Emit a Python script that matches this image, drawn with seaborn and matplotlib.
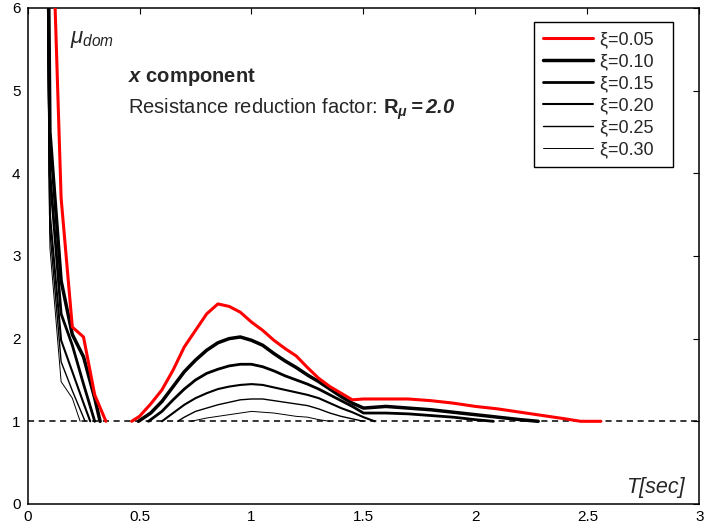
import numpy as np
import pandas as pd
import matplotlib
matplotlib.use("Agg")
import matplotlib.pyplot as plt
import seaborn as sns
from matplotlib.lines import Line2D

# ---------------- data (NaN separates the two branches of a curve) ----------------
xi_labels = ["ξ=0.05", "ξ=0.10", "ξ=0.15", "ξ=0.20", "ξ=0.25", "ξ=0.30"]

T_005 = [0.05, 0.10, 0.15, 0.20, 0.25, 0.30, 0.35, np.nan,
         0.465, 0.50, 0.55, 0.60, 0.65, 0.70, 0.75, 0.80, 0.85, 0.90, 0.95, 1.00,
         1.05, 1.10, 1.15, 1.20, 1.25, 1.30, 1.35, 1.40, 1.45, 1.50, 1.60, 1.70,
         1.80, 1.90, 2.00, 2.10, 2.20, 2.30, 2.40, 2.47, 2.56]
M_005 = [30.0, 8.0, 3.7, 2.14, 2.02, 1.32, 1.0, np.nan,
         1.0, 1.06, 1.21, 1.38, 1.62, 1.90, 2.10, 2.30, 2.42, 2.39, 2.32, 2.20,
         2.10, 1.98, 1.88, 1.79, 1.65, 1.52, 1.42, 1.34, 1.26, 1.27, 1.27, 1.27,
         1.25, 1.22, 1.18, 1.15, 1.11, 1.07, 1.03, 1.0, 1.0]

T_010 = [0.05, 0.10, 0.15, 0.20, 0.25, 0.30, 0.324, np.nan,
         0.495, 0.55, 0.60, 0.65, 0.70, 0.75, 0.80, 0.85, 0.90, 0.95, 1.00, 1.05,
         1.10, 1.15, 1.20, 1.25, 1.30, 1.35, 1.40, 1.45, 1.50, 1.60, 1.70, 1.80,
         1.90, 2.00, 2.10, 2.20, 2.28]
M_010 = [20.0, 4.5, 2.7, 2.05, 1.78, 1.28, 1.0, np.nan,
         1.0, 1.10, 1.24, 1.42, 1.60, 1.74, 1.86, 1.95, 2.00, 2.02, 1.98, 1.92,
         1.82, 1.73, 1.65, 1.56, 1.48, 1.39, 1.30, 1.22, 1.16, 1.18, 1.16, 1.14,
         1.11, 1.08, 1.05, 1.02, 1.0]

T_015 = [0.05, 0.10, 0.15, 0.20, 0.25, 0.30, np.nan,
         0.54, 0.60, 0.65, 0.70, 0.75, 0.80, 0.85, 0.90, 0.95, 1.00, 1.05, 1.10,
         1.15, 1.20, 1.25, 1.30, 1.35, 1.40, 1.45, 1.50, 1.60, 1.70, 1.80, 1.90,
         2.00, 2.08]
M_015 = [19.0, 4.0, 2.3, 1.92, 1.45, 1.0, np.nan,
         1.0, 1.12, 1.26, 1.39, 1.50, 1.58, 1.63, 1.67, 1.69, 1.69, 1.66, 1.61,
         1.55, 1.50, 1.45, 1.39, 1.32, 1.25, 1.18, 1.10, 1.10, 1.09, 1.07, 1.05,
         1.02, 1.0]

T_020 = [0.05, 0.10, 0.15, 0.20, 0.25, 0.28, np.nan,
         0.60, 0.65, 0.70, 0.75, 0.80, 0.85, 0.90, 0.95, 1.00, 1.05, 1.10, 1.15,
         1.20, 1.25, 1.30, 1.35, 1.40, 1.45, 1.50, 1.55]
M_020 = [18.0, 3.5, 1.98, 1.60, 1.22, 1.0, np.nan,
         1.0, 1.10, 1.20, 1.28, 1.34, 1.39, 1.42, 1.44, 1.45, 1.44, 1.41, 1.38,
         1.35, 1.32, 1.28, 1.22, 1.16, 1.11, 1.05, 1.0]

T_025 = [0.05, 0.10, 0.15, 0.20, 0.257, np.nan,
         0.67, 0.70, 0.75, 0.80, 0.85, 0.90, 0.95, 1.00, 1.05, 1.10, 1.15, 1.20,
         1.25, 1.30, 1.35, 1.40, 1.45, 1.50]
M_025 = [17.0, 3.3, 1.72, 1.37, 1.0, np.nan,
         1.0, 1.05, 1.12, 1.16, 1.20, 1.23, 1.26, 1.27, 1.27, 1.25, 1.23, 1.21,
         1.19, 1.15, 1.10, 1.06, 1.03, 1.0]

T_030 = [0.05, 0.10, 0.15, 0.20, 0.235, np.nan,
         0.73, 0.80, 0.85, 0.90, 0.95, 1.00, 1.05, 1.10, 1.15, 1.20, 1.25, 1.30, 1.35]
M_030 = [16.0, 3.1, 1.48, 1.28, 1.0, np.nan,
         1.0, 1.04, 1.06, 1.08, 1.10, 1.12, 1.11, 1.10, 1.08, 1.06, 1.05, 1.02, 1.0]

x_ticks = [0, 0.5, 1, 1.5, 2, 2.5, 3]
x_ticklabels = ["0", "0.5", "1", "1.5", "2", "2.5", "3"]
y_ticks = [0, 1, 2, 3, 4, 5, 6]

series_T = [T_005, T_010, T_015, T_020, T_025, T_030]
series_M = [M_005, M_010, M_015, M_020, M_025, M_030]

# ---------------- build long-form table with branch units ----------------
rows = []
for lab, Ts, Ms in zip(xi_labels, series_T, series_M):
    seg = 0
    for t, m in zip(Ts, Ms):
        if np.isnan(t):
            seg += 1
            continue
        rows.append({"T": t, "mu": m, "xi": lab, "branch": f"{lab}_{seg}"})
df = pd.DataFrame(rows)

# ---------------- style ----------------
sns.set_theme(style="white")
plt.rcParams["font.family"] = ["Liberation Sans", "DejaVu Sans"]
plt.rcParams["mathtext.fontset"] = "custom"
plt.rcParams["mathtext.rm"] = "Liberation Sans"
plt.rcParams["mathtext.it"] = "Liberation Sans:italic"
plt.rcParams["mathtext.bf"] = "Liberation Sans:bold"
plt.rcParams["mathtext.cal"] = "Liberation Sans:italic:bold"

colors = {"ξ=0.05": "#ff0000", "ξ=0.10": "black", "ξ=0.15": "black",
          "ξ=0.20": "black", "ξ=0.25": "black", "ξ=0.30": "black"}
widths = {"ξ=0.05": 2.2, "ξ=0.10": 2.5, "ξ=0.15": 2.0,
          "ξ=0.20": 1.5, "ξ=0.25": 1.0, "ξ=0.30": 0.7}

fig = plt.figure(figsize=(7.13, 5.28), dpi=100)
ax = fig.add_axes([0.0386, 0.0455, 0.9424, 0.9394])

ax.axhline(1.0, color="black", lw=1.1, ls=(0, (4, 3)), zorder=1)

for lab in xi_labels[::-1]:
    sub = df[df["xi"] == lab]
    sns.lineplot(data=sub, x="T", y="mu", units="branch", estimator=None,
                 sort=False, color=colors[lab], lw=widths[lab], ax=ax,
                 legend=False, zorder=3 if lab == "ξ=0.05" else 2)

ax.set_xlim(0, 3)
ax.set_ylim(0, 6)
ax.set_xticks(x_ticks)
ax.set_xticklabels(x_ticklabels)
ax.set_yticks(y_ticks)
ax.set_xlabel("")
ax.set_ylabel("")
ax.tick_params(direction="in", length=4, width=0.8, top=True, right=True,
               labelsize=11, colors="black")
ax.tick_params(axis="y", pad=5)
ax.tick_params(axis="x", pad=4)
for sp in ax.spines.values():
    sp.set_color("black")
    sp.set_linewidth(1.1)
    sp.set_visible(True)

handles = [Line2D([], [], color=colors[l], lw=widths[l]) for l in xi_labels]
leg = ax.legend(handles, [l + "  " for l in xi_labels], loc="upper right",
                bbox_to_anchor=(0.9606, 0.9718), borderaxespad=0.0,
                fontsize=13, handlelength=2.75, labelspacing=0.28,
                borderpad=0.5, handletextpad=0.4, fancybox=False,
                framealpha=1, edgecolor="black")
leg.get_frame().set_linewidth(1.0)

ax.text(0.19, 5.62, r"$\mu_{dom}$", fontsize=16, ha="left", va="center")
ax.text(0.45, 5.16, r"$\mathcal{x}$ component", fontsize=14.5,
        fontweight="bold", ha="left", va="center")
ax.text(0.45, 4.78,
        r"Resistance reduction factor: $\mathbf{R}_{\mathcal{\mu}}\mathcal{=}\mathcal{2.0}$",
        fontsize=14.5, ha="left", va="center")
ax.text(2.935, 0.133, "T[sec]", fontsize=15.5, style="italic",
        ha="right", va="baseline")

fig.savefig("out.png", dpi=100, facecolor="white")
